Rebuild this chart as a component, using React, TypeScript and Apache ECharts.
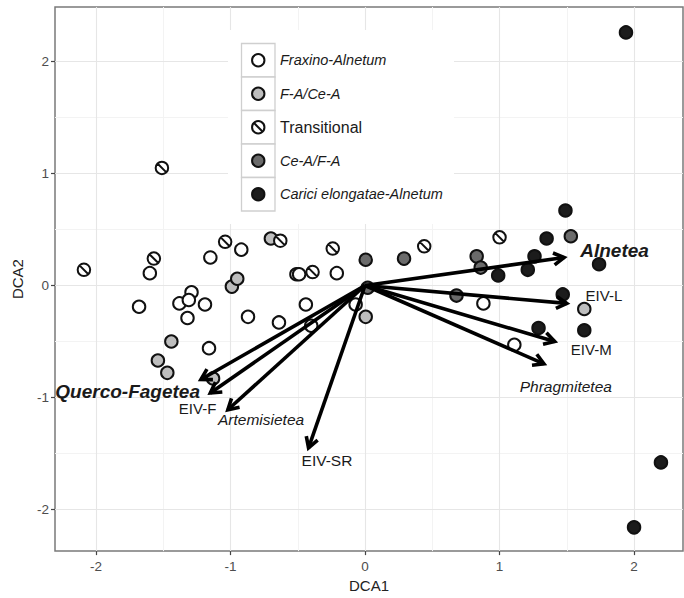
import React, { useEffect, useRef } from "react";
import * as echarts from "echarts";

// ---- data ----
const xTicks = [-2, -1, 0, 1, 2];
const yTicks = [-2, -1, 0, 1, 2];
const xMinor = [-1.5, -0.5, 0.5, 1.5];
const yMinor = [-1.5, -0.5, 0.5, 1.5];

const groupNames = ["Fraxino-Alnetum", "F-A/Ce-A", "Transitional", "Ce-A/F-A", "Carici elongatae-Alnetum"];
const groupItalic = [true, true, false, true, true];
const groupFill = ["#ffffff", "#bebebe", "#ffffff", "#6b6b6b", "#1c1c1c"];

const fraxino = [
  [-1.60, 0.11], [-1.15, 0.25], [-1.68, -0.19], [-1.29, -0.06], [-1.38, -0.16],
  [-1.31, -0.13], [-1.19, -0.17], [-1.32, -0.29], [-1.16, -0.56], [-0.92, 0.32],
  [-0.87, -0.28], [-0.64, -0.33], [-0.51, 0.10], [-0.49, 0.10], [-0.21, 0.11],
  [-0.44, -0.17], [-0.07, -0.17], [-0.40, -0.36], [0.88, -0.16], [1.11, -0.53],
];
const faCe = [
  [-1.44, -0.50], [-1.54, -0.67], [-1.47, -0.78], [-0.99, -0.01], [-0.95, 0.06],
  [-0.70, 0.42], [0.005, -0.28], [1.63, -0.21], [-1.13, -0.83],
];
const transitional = [
  [-2.09, 0.14], [-1.57, 0.24], [-1.04, 0.39], [-1.51, 1.05], [-0.63, 0.40],
  [-0.39, 0.12], [-0.24, 0.33], [0.44, 0.35], [1.00, 0.43],
];
const ceA = [
  [0.005, 0.23], [0.02, -0.02], [0.29, 0.24], [0.83, 0.26], [0.86, 0.16],
  [0.68, -0.09], [1.53, 0.44],
];
const carici = [
  [1.49, 0.67], [1.35, 0.42], [1.26, 0.26], [1.21, 0.14], [0.99, 0.09],
  [1.47, -0.08], [1.29, -0.38], [1.74, 0.19], [1.63, -0.40], [1.94, 2.26],
  [2.20, -1.58], [2.00, -2.16],
];
const groupData = [fraxino, faCe, transitional, ceA, carici];

const arrowNames = ["Alnetea", "EIV-L", "EIV-M", "Phragmitetea", "Querco-Fagetea", "EIV-F", "Artemisietea", "EIV-SR"];
const arrowX = [1.48, 1.50, 1.41, 1.33, -1.22, -1.15, -1.02, -0.42];
const arrowY = [0.25, -0.16, -0.50, -0.70, -0.84, -0.96, -1.11, -1.45];
const labelX = [1.60, 1.64, 1.53, 1.15, -1.227, -1.245, -0.773, -0.283];
const labelY = [0.31, -0.09, -0.57, -0.90, -0.95, -1.095, -1.20, -1.566];
const labelAlign = ["left", "left", "left", "left", "right", "center", "center", "center"];
const labelWeight = ["bold", "normal", "normal", "normal", "bold", "normal", "normal", "normal"];
const labelItalic = [true, false, false, true, true, false, true, false];
const labelSize = [19, 15, 15, 15.5, 19, 15, 15.5, 15.5];

const FONT = '"Liberation Sans", Arial, Helvetica, sans-serif';
const slashSymbol = "path://M0,10 A10,10 0 1,1 20,10 A10,10 0 1,1 0,10 Z M3.3,3.3 L16.7,16.7";

export default function App() {
  const ref = useRef<HTMLDivElement>(null);
  useEffect(() => {
    if (!ref.current) return;
    const chart = echarts.init(ref.current, null, { renderer: "svg" });

    const xMin = -2.305, xMax = 2.364, yMin = -2.372, yMax = 2.487;

    const scatterSeries = groupNames.map((name, i) => ({
      type: "scatter",
      name,
      data: groupData[i],
      symbol: i === 2 ? slashSymbol : "circle",
      symbolSize: 12.5,
      itemStyle: { color: groupFill[i], borderColor: "#111", borderWidth: 2, opacity: 1 },
      z: 3,
    }));

    // legend graphic
    const lgX = 241.5, lgY = 43.5, cell = 33.5;
    const legendEls: any[] = [
      { type: "rect", shape: { x: 228, y: 30, width: 226, height: 194 }, style: { fill: "#ffffff" }, z: 5 },
    ];
    groupNames.forEach((name, i) => {
      const cy = lgY + cell * i + cell / 2;
      const cx = lgX + cell / 2;
      legendEls.push({
        type: "rect",
        shape: { x: lgX, y: lgY + cell * i, width: cell, height: cell },
        style: { fill: "#ffffff", stroke: "#cfcfcf", lineWidth: 1.3 },
        z: 6,
      });
      legendEls.push({
        type: "circle",
        shape: { cx, cy, r: 6.2 },
        style: { fill: groupFill[i], stroke: "#111", lineWidth: 2 },
        z: 7,
      });
      if (i === 2) {
        legendEls.push({
          type: "line",
          shape: { x1: cx - 4.2, y1: cy - 4.2, x2: cx + 4.2, y2: cy + 4.2 },
          style: { stroke: "#111", lineWidth: 2 },
          z: 7,
        });
      }
      legendEls.push({
        type: "text",
        x: lgX + cell + 5,
        y: cy,
        style: {
          text: name,
          fontFamily: FONT,
          fontSize: groupItalic[i] ? 14.5 : 16,
          fontStyle: groupItalic[i] ? "italic" : "normal",
          fill: "#1a1a1a",
          verticalAlign: "middle",
          align: "left",
        },
        z: 7,
      });
    });

    const option: any = {
      animation: false,
      backgroundColor: "#ffffff",
      grid: {
        left: 55, right: 1, top: 7, bottom: 42,
        show: true, borderColor: "#7a7a7a", borderWidth: 1.5, backgroundColor: "transparent",
      },
      xAxis: [
        {
          type: "value", min: xMin, max: xMax,
          axisLine: { show: false, onZero: false },
          axisTick: { show: true, length: 4, customValues: xTicks, lineStyle: { color: "#444", width: 1.2 } },
          axisLabel: { customValues: xTicks, color: "#4d4d4d", fontSize: 13.5, fontFamily: FONT, margin: 8 },
          splitLine: { show: true, lineStyle: { color: "#e6e6e6", width: 1.1 } },
          name: "DCA1", nameLocation: "middle", nameGap: 22,
          nameTextStyle: { fontSize: 15, color: "#222", fontFamily: FONT },
          z: 1,
        },
        {
          type: "value", min: xMin, max: xMax, position: "top",
          axisLine: { show: false, onZero: false },
          axisTick: { show: false, customValues: xMinor },
          axisLabel: { show: false, customValues: xMinor },
          splitLine: { show: true, lineStyle: { color: "#f3f3f3", width: 1 } },
          z: 0,
        },
      ],
      yAxis: [
        {
          type: "value", min: yMin, max: yMax,
          axisLine: { show: false, onZero: false },
          axisTick: { show: true, length: 4, customValues: yTicks, lineStyle: { color: "#444", width: 1.2 } },
          axisLabel: { customValues: yTicks, color: "#4d4d4d", fontSize: 13.5, fontFamily: FONT, margin: 6 },
          splitLine: { show: true, lineStyle: { color: "#e6e6e6", width: 1.1 } },
          name: "DCA2", nameLocation: "middle", nameGap: 30, nameRotate: 90,
          nameTextStyle: { fontSize: 15, color: "#222", fontFamily: FONT },
          z: 1,
        },
        {
          type: "value", min: yMin, max: yMax, position: "right",
          axisLine: { show: false, onZero: false },
          axisTick: { show: false, customValues: yMinor },
          axisLabel: { show: false, customValues: yMinor },
          splitLine: { show: true, lineStyle: { color: "#f3f3f3", width: 1 } },
          z: 0,
        },
      ],
      graphic: legendEls,
      series: [
        ...scatterSeries,
        {
          type: "custom",
          name: "arrows",
          xAxisIndex: 0, yAxisIndex: 0,
          data: arrowX.map((x, i) => [x, arrowY[i]]),
          z: 4,
          silent: true,
          renderItem: (params: any, api: any) => {
            const o = api.coord([0, 0]);
            const t = api.coord([api.value(0), api.value(1)]);
            const ang = Math.atan2(t[1] - o[1], t[0] - o[0]);
            const L = 12, a = Math.PI / 6;
            const p1 = [t[0] - L * Math.cos(ang - a), t[1] - L * Math.sin(ang - a)];
            const p2 = [t[0] - L * Math.cos(ang + a), t[1] - L * Math.sin(ang + a)];
            return {
              type: "group",
              children: [
                { type: "line", shape: { x1: o[0], y1: o[1], x2: t[0], y2: t[1] }, style: { stroke: "#000", lineWidth: 3.6 } },
                { type: "polyline", shape: { points: [p1, t, p2] }, style: { stroke: "#000", lineWidth: 3.6, fill: null, lineJoin: "miter" } },
              ],
            };
          },
        },
        {
          type: "custom",
          name: "arrowLabels",
          xAxisIndex: 0, yAxisIndex: 0,
          data: labelX.map((x, i) => [x, labelY[i]]),
          z: 5,
          silent: true,
          renderItem: (params: any, api: any) => {
            const i = params.dataIndex;
            const p = api.coord([api.value(0), api.value(1)]);
            return {
              type: "text",
              x: p[0], y: p[1],
              style: {
                text: arrowNames[i],
                fontFamily: FONT,
                fontSize: labelSize[i],
                fontWeight: labelWeight[i],
                fontStyle: labelItalic[i] ? "italic" : "normal",
                fill: "#1a1a1a",
                align: labelAlign[i],
                verticalAlign: "middle",
              },
            };
          },
        },
      ],
    };
    chart.setOption(option);
    return () => chart.dispose();
  }, []);
  return <div ref={ref} style={{ width: 684, height: 598, position: "absolute", left: 0, top: 0 }} />;
}
